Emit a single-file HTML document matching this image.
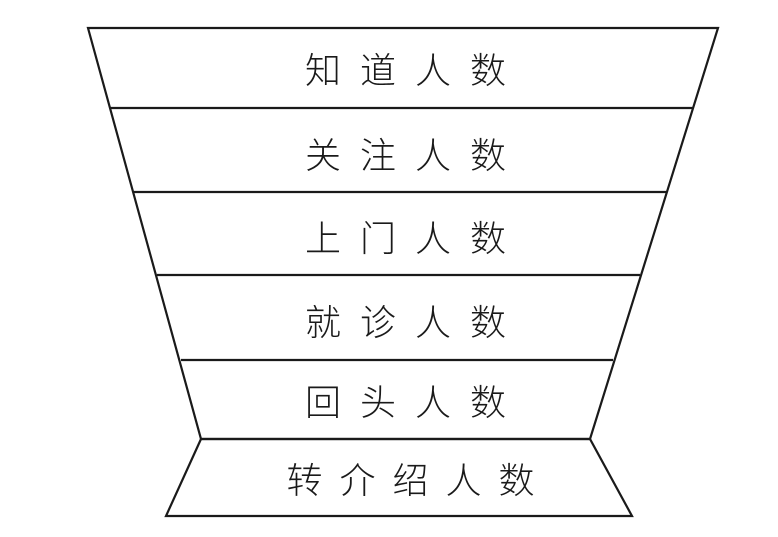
<!DOCTYPE html>
<html><head><meta charset="utf-8"><style>
html,body{margin:0;padding:0;background:#fff;width:778px;height:537px;overflow:hidden}
</style></head><body>
<svg width="778" height="537" viewBox="0 0 778 537" xmlns="http://www.w3.org/2000/svg">
<g fill="none" stroke="#1a1a1a" stroke-width="2.2" stroke-linejoin="miter">
<polygon points="88,28 718,28 590,439 201,439"/>
<polygon points="201,439 590,439 632,516 166,516"/>
<line x1="110" y1="108" x2="693" y2="108"/>
<line x1="133" y1="192" x2="667" y2="192"/>
<line x1="157" y1="275" x2="640" y2="275"/>
<line x1="181" y1="360" x2="613" y2="360"/>
</g>
<g font-family="'Liberation Sans','Noto Sans CJK SC',sans-serif" font-size="36" font-weight="300" fill="#1a1a1a" text-anchor="middle">
<text x="415" y="83" letter-spacing="19">知道人数</text>
<text x="415" y="168" letter-spacing="19">关注人数</text>
<text x="415" y="251" letter-spacing="19">上门人数</text>
<text x="415" y="335" letter-spacing="19">就诊人数</text>
<text x="415" y="415" letter-spacing="19">回头人数</text>
<text x="419" y="493" letter-spacing="17">转介绍人数</text>
</g>
</svg>
</body></html>
